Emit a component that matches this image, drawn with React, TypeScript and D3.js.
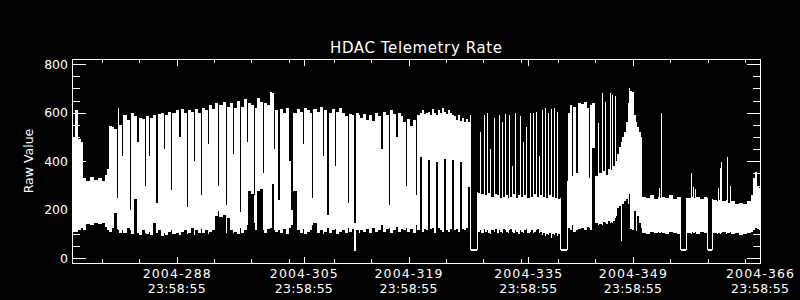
import React, { useEffect } from "react";
import * as d3 from "d3";

const chartTitle = "HDAC Telemetry Rate";
const yTitle = "Raw Value";
const yMajorTicks = [0, 200, 400, 600, 800];
const yMinorTicks = [50, 100, 150, 250, 300, 350, 450, 500, 550, 650, 700, 750];
const xStartDay = 274;
const xEndDay = 366;
const xMajorDays = [288, 305, 319, 335, 349, 366];
const xMinorDays = [278, 283, 293, 298, 303, 309, 314, 324, 329, 334, 339, 344, 354, 359, 364];

// fractional day-of-year 2004 at which each sample bin starts; min / max of the raw value in that bin
const sampleDay = [
  275.00, 275.40, 275.80, 276.20, 276.47, 276.87, 277.41, 277.94, 278.48, 279.01,
  279.41, 279.68, 279.95, 280.35, 280.62, 281.02, 281.15, 281.29, 281.69, 281.82,
  282.36, 282.76, 282.89, 283.29, 283.69, 283.96, 284.36, 284.76, 284.90, 285.30,
  285.43, 285.83, 286.23, 286.50, 286.90, 287.30, 287.44, 287.84, 288.24, 288.37,
  288.91, 289.31, 289.58, 289.98, 290.38, 290.51, 290.91, 291.32, 291.45, 291.85,
  292.25, 292.38, 292.79, 293.19, 293.32, 293.72, 294.12, 294.52, 294.66, 295.19,
  295.59, 295.73, 296.13, 296.53, 296.66, 297.07, 297.47, 297.60, 298.00, 298.40,
  298.54, 298.94, 299.34, 299.47, 299.74, 300.14, 300.54, 300.68, 301.08, 301.48,
  301.75, 302.01, 302.15, 302.55, 302.82, 303.22, 303.62, 304.02, 304.29, 304.55,
  305.09, 305.49, 305.89, 306.03, 306.43, 306.83, 307.10, 307.23, 307.76, 308.17,
  308.57, 308.70, 309.10, 309.37, 309.77, 310.17, 310.30, 310.71, 311.11, 311.51,
  311.91, 312.04, 312.44, 312.71, 312.98, 313.38, 313.51, 313.92, 314.32, 314.72,
  315.12, 315.52, 315.92, 316.32, 316.59, 316.99, 317.39, 317.53, 317.93, 318.33,
  318.60, 319.00, 319.26, 319.67, 319.80, 320.20, 320.60, 321.00, 321.14, 321.54,
  321.81, 322.07, 322.34, 322.61, 322.88, 323.14, 323.41, 323.68, 323.95, 324.21,
  324.48, 324.75, 325.02, 325.28, 325.55, 325.82, 326.09, 326.35, 326.62, 326.89,
  327.15, 327.42, 327.69, 327.96, 328.22, 328.36, 329.16, 329.29, 329.56, 329.70,
  330.10, 330.23, 330.50, 330.63, 330.90, 331.03, 331.43, 331.57, 331.84, 332.10,
  332.24, 332.50, 332.64, 332.91, 333.04, 333.31, 333.44, 333.57, 333.84, 333.97,
  334.24, 334.38, 334.64, 334.91, 335.04, 335.31, 335.45, 335.71, 335.85, 336.25,
  336.38, 336.65, 336.78, 337.05, 337.18, 337.45, 337.59, 337.85, 337.99, 338.25,
  338.39, 338.66, 338.79, 339.06, 339.19, 339.46, 339.59, 339.86, 339.99, 340.26,
  340.39, 341.20, 341.33, 341.60, 341.87, 342.00, 342.40, 342.67, 343.07, 343.47,
  343.87, 344.14, 344.27, 344.54, 344.94, 345.34, 345.48, 345.88, 346.01, 346.28,
  346.41, 346.68, 346.95, 347.08, 347.21, 347.35, 347.62, 347.75, 347.88, 348.15,
  348.42, 348.55, 348.82, 349.09, 349.35, 349.49, 349.62, 349.89, 350.16, 350.42,
  350.56, 350.82, 351.09, 351.23, 351.76, 352.30, 352.83, 353.37, 353.50, 353.63,
  353.77, 353.90, 354.30, 354.84, 355.37, 355.91, 356.31, 356.44, 357.11, 357.24,
  357.78, 357.91, 358.05, 358.18, 358.31, 358.45, 358.98, 359.52, 359.92, 360.05,
  360.59, 360.72, 361.26, 361.39, 361.52, 361.66, 361.79, 361.92, 362.46, 362.59,
  362.73, 362.99, 363.13, 363.66, 364.20, 364.73, 365.27, 365.80, 366.07, 366.34,
  366.60, 366.87,
];

const sampleMin = [
  115, 115, 120, 130, 120, 145, 140, 150, 145, 150,
  135, 120, 115, 130, 190, 125, 120, 110, 120, 110,
  130, 120, 105, 250, 110, 100, 120, 110, 105, 115,
  100, 150, 110, 120, 95, 110, 100, 115, 120, 105,
  110, 100, 115, 120, 105, 110, 130, 100, 120, 110,
  125, 110, 120, 105, 115, 120, 180, 200, 175, 185,
  110, 170, 120, 110, 115, 105, 130, 110, 120, 140,
  280, 270, 150, 120, 282, 290, 120, 110, 125, 130,
  310, 120, 115, 120, 110, 125, 105, 130, 140, 281,
  120, 110, 125, 105, 115, 120, 140, 150, 110, 120,
  105, 115, 130, 110, 120, 125, 105, 115, 120, 110,
  130, 115, 125, 35, 120, 110, 120, 115, 125, 110,
  130, 115, 120, 140, 115, 125, 130, 110, 120, 135,
  115, 125, 120, 130, 115, 125, 110, 140, 120, 420,
  115, 125, 120, 410, 125, 130, 110, 400, 130, 120,
  115, 415, 120, 115, 125, 410, 120, 125, 115, 400,
  125, 120, 130, 300, 40, 40, 40, 115, 120, 110,
  125, 115, 120, 110, 105, 120, 115, 125, 110, 120,
  115, 110, 125, 120, 115, 110, 120, 125, 115, 110,
  120, 115, 105, 120, 115, 110, 120, 125, 110, 115,
  120, 110, 115, 120, 125, 110, 115, 100, 110, 95,
  105, 100, 110, 90, 105, 100, 110, 95, 105, 40,
  40, 40, 130, 120, 140, 115, 120, 125, 130, 120,
  135, 130, 120, 460, 150, 140, 145, 140, 155, 150,
  145, 160, 150, 155, 150, 160, 170, 180, 210, 220,
  76, 230, 240, 250, 230, 270, 124, 120, 200, 117,
  180, 150, 130, 110, 105, 115, 108, 112, 110, 108,
  115, 110, 105, 115, 110, 105, 38, 38, 38, 110,
  105, 115, 110, 108, 112, 105, 115, 110, 38, 38,
  38, 110, 105, 110, 108, 105, 110, 112, 105, 110,
  108, 112, 105, 110, 100, 105, 110, 115, 120, 130,
  125, 120,
];

const sampleMax = [
  500, 610, 490, 480, 330, 320, 335, 325, 330, 320,
  345, 370, 545, 540, 535, 250, 620, 550, 420, 590,
  570, 200, 600, 585, 480, 580, 575, 300, 585, 420,
  580, 590, 230, 595, 600, 450, 590, 605, 280, 600,
  610, 500, 615, 600, 210, 610, 605, 400, 615, 600,
  260, 620, 610, 470, 630, 615, 640, 300, 630, 645,
  220, 625, 640, 430, 620, 650, 190, 625, 655, 480,
  640, 630, 260, 620, 660, 645, 350, 640, 630, 685,
  680, 450, 610, 240, 615, 600, 620, 400, 200, 600,
  615, 605, 470, 620, 610, 600, 250, 615, 605, 625,
  420, 610, 180, 600, 615, 380, 605, 620, 600, 585,
  230, 595, 590, 145, 600, 590, 580, 595, 570, 590,
  565, 600, 585, 450, 605, 590, 220, 610, 595, 500,
  600, 585, 560, 300, 575, 545, 570, 260, 590, 600,
  610, 595, 600, 605, 590, 615, 600, 590, 610, 600,
  620, 605, 595, 610, 600, 590, 585, 570, 590, 565,
  580, 560, 575, 560, 590, 40, 275, 270, 520, 265,
  590, 260, 600, 270, 450, 255, 580, 265, 260, 590,
  250, 560, 255, 595, 260, 250, 590, 255, 380, 265,
  600, 250, 260, 585, 255, 480, 260, 540, 250, 600,
  255, 600, 265, 605, 255, 420, 260, 610, 255, 620,
  250, 600, 260, 615, 255, 620, 250, 605, 245, 250,
  40, 320, 600, 630, 340, 625, 350, 640, 635, 645,
  620, 330, 630, 640, 340, 557, 350, 680, 360, 646,
  345, 370, 680, 365, 675, 380, 670, 400, 430, 460,
  480, 500, 520, 560, 640, 700, 690, 685, 590, 560,
  540, 520, 500, 255, 250, 260, 245, 255, 290, 250,
  598, 255, 250, 260, 245, 255, 255, 38, 250, 250,
  350, 255, 296, 250, 285, 255, 245, 255, 250, 38,
  245, 240, 235, 290, 240, 371, 399, 235, 240, 419,
  230, 300, 235, 225, 230, 225, 235, 260, 330, 355,
  300, 290,
];

const W = 800;
const H = 300;
const LEFT = 72;
const RIGHT = 760;
const TOP = 59.3;
const BOTTOM = 263.3;
const DAY_MS = 86400000;
const YEAR0 = Date.UTC(2004, 0, 1);
const CLOCK_MS = (23 * 3600 + 58 * 60 + 55) * 1000;
const FONT = "'DejaVu Sans', Verdana, sans-serif";

const dayToDate = (d: number) => new Date(YEAR0 + (d - 1) * DAY_MS);
const tickToDate = (d: number) => new Date(YEAR0 + (d - 1) * DAY_MS + CLOCK_MS);

export default function App() {
  useEffect(() => {
    document.body.style.margin = "0";
    document.body.style.background = "#000";
  }, []);

  const x = d3.scaleUtc().domain([tickToDate(xStartDay), tickToDate(xEndDay)]).range([LEFT, RIGHT]);
  const y = d3.scaleLinear().domain([-20, 820]).range([BOTTOM, TOP]);
  const fmtDay = d3.utcFormat("%Y-%j");
  const fmtClock = d3.utcFormat("%H:%M:%S");
  const px = (v: number) => Math.round(v) + 0.5;

  const cols = sampleDay.map((d, i) => {
    const x0 = Math.max(LEFT, Math.round(x(dayToDate(d))));
    const nextDate = i + 1 < sampleDay.length ? dayToDate(sampleDay[i + 1]) : tickToDate(xEndDay);
    const x1 = Math.min(RIGHT, Math.round(x(nextDate)));
    const yt = Math.round(y(sampleMax[i]));
    const yb = Math.round(y(sampleMin[i]));
    return (
      <rect key={i} x={x0} y={yt} width={Math.max(1, x1 - x0)} height={Math.max(2, yb - yt + 1)} fill="#fff" />
    );
  });

  return (
    <svg width={W} height={H} style={{ display: "block", background: "#000" }} fontFamily={FONT}>
      <rect x={0} y={0} width={W} height={H} fill="#000" />
      <g shapeRendering="crispEdges">{cols}</g>
      <g stroke="#fff" strokeWidth={1} shapeRendering="crispEdges" fill="none">
        <rect x={LEFT + 0.5} y={Math.floor(TOP) + 0.5} width={RIGHT - LEFT} height={Math.floor(BOTTOM) - Math.floor(TOP)} />
        {yMajorTicks.map((v) => (
          <g key={"ym" + v}>
            <line x1={LEFT} x2={LEFT + 14} y1={px(y(v))} y2={px(y(v))} />
            <line x1={RIGHT + 1} x2={RIGHT - 13} y1={px(y(v))} y2={px(y(v))} />
          </g>
        ))}
        {yMinorTicks.map((v) => (
          <g key={"yn" + v}>
            <line x1={LEFT} x2={LEFT + 8} y1={px(y(v))} y2={px(y(v))} />
            <line x1={RIGHT + 1} x2={RIGHT - 7} y1={px(y(v))} y2={px(y(v))} />
          </g>
        ))}
        {xMajorDays.map((d) => (
          <g key={"xm" + d}>
            <line x1={px(x(tickToDate(d)))} x2={px(x(tickToDate(d)))} y1={Math.floor(BOTTOM) + 1} y2={Math.floor(BOTTOM) - 6} />
            <line x1={px(x(tickToDate(d)))} x2={px(x(tickToDate(d)))} y1={Math.floor(TOP)} y2={Math.floor(TOP) + 7} />
          </g>
        ))}
        {xMinorDays.map((d) => (
          <g key={"xn" + d}>
            <line x1={px(x(tickToDate(d)))} x2={px(x(tickToDate(d)))} y1={Math.floor(BOTTOM) + 1} y2={Math.floor(BOTTOM) - 4} />
            <line x1={px(x(tickToDate(d)))} x2={px(x(tickToDate(d)))} y1={Math.floor(TOP)} y2={Math.floor(TOP) + 4} />
          </g>
        ))}
      </g>
      <g fill="#fff" fontSize={12.5}>
        {yMajorTicks.map((v) => (
          <text key={"yl" + v} x={68} y={y(v) + 4.6} textAnchor="end">
            {String(v)}
          </text>
        ))}
        {xMajorDays.map((d) => {
          const t = tickToDate(d);
          const cx = x(t);
          return (
            <g key={"xl" + d}>
              <text x={cx} y={278.3} textAnchor="middle" textLength={68} lengthAdjust="spacing">
                {fmtDay(t)}
              </text>
              <text x={cx} y={293.3} textAnchor="middle" textLength={58} lengthAdjust="spacing">
                {fmtClock(t)}
              </text>
            </g>
          );
        })}
        <text x={416} y={52.7} textAnchor="middle" fontSize={15} textLength={172} lengthAdjust="spacing">
          {chartTitle}
        </text>
        <text transform="translate(32.5,161) rotate(-90)" textAnchor="middle" fontSize={12.5}>
          {yTitle}
        </text>
      </g>
    </svg>
  );
}
